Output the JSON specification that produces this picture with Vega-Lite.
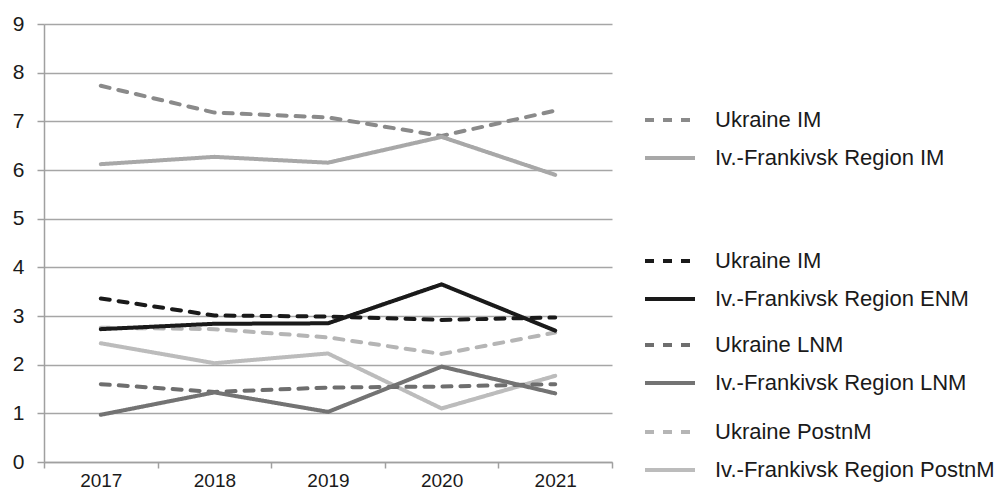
{
  "$schema": "https://vega.github.io/schema/vega-lite/v6.json",
  "width": 568,
  "height": 438,
  "autosize": {"type": "none"},
  "padding": {"left": 44, "top": 24, "right": 390, "bottom": 29},
  "background": "white",
  "config": {
    "view": {"stroke": null},
    "font": "Liberation Sans",
    "axis": {
      "labelFont": "Liberation Sans",
      "labelColor": "#1a1a1a",
      "domainColor": "#a0a0a0",
      "tickColor": "#a0a0a0",
      "gridColor": "#a6a6a6",
      "domainWidth": 1.5,
      "tickWidth": 1.5,
      "gridWidth": 1.5,
      "title": null
    },
    "legend": {
      "title": null,
      "orient": "none",
      "symbolType": "stroke",
      "symbolStrokeWidth": 4,
      "symbolSize": 2500,
      "labelFont": "Liberation Sans",
      "labelFontSize": 22,
      "labelColor": "#1a1a1a",
      "labelOffset": 18,
      "labelLimit": 400,
      "rowPadding": -16,
      "padding": 0
    }
  },
  "data": {
    "values": [
      {"year": "2017", "value": 7.73, "group": "IM", "series": "Ukraine IM"},
      {"year": "2018", "value": 7.18, "group": "IM", "series": "Ukraine IM"},
      {"year": "2019", "value": 7.08, "group": "IM", "series": "Ukraine IM"},
      {"year": "2020", "value": 6.7, "group": "IM", "series": "Ukraine IM"},
      {"year": "2021", "value": 7.22, "group": "IM", "series": "Ukraine IM"},
      {"year": "2017", "value": 6.12, "group": "IM", "series": "Iv.-Frankivsk Region IM"},
      {"year": "2018", "value": 6.27, "group": "IM", "series": "Iv.-Frankivsk Region IM"},
      {"year": "2019", "value": 6.15, "group": "IM", "series": "Iv.-Frankivsk Region IM"},
      {"year": "2020", "value": 6.68, "group": "IM", "series": "Iv.-Frankivsk Region IM"},
      {"year": "2021", "value": 5.9, "group": "IM", "series": "Iv.-Frankivsk Region IM"},
      {"year": "2017", "value": 3.36, "group": "ENM", "series": "Ukraine IM"},
      {"year": "2018", "value": 3.01, "group": "ENM", "series": "Ukraine IM"},
      {"year": "2019", "value": 2.99, "group": "ENM", "series": "Ukraine IM"},
      {"year": "2020", "value": 2.92, "group": "ENM", "series": "Ukraine IM"},
      {"year": "2021", "value": 2.97, "group": "ENM", "series": "Ukraine IM"},
      {"year": "2017", "value": 2.73, "group": "ENM", "series": "Iv.-Frankivsk Region ENM"},
      {"year": "2018", "value": 2.84, "group": "ENM", "series": "Iv.-Frankivsk Region ENM"},
      {"year": "2019", "value": 2.85, "group": "ENM", "series": "Iv.-Frankivsk Region ENM"},
      {"year": "2020", "value": 3.65, "group": "ENM", "series": "Iv.-Frankivsk Region ENM"},
      {"year": "2021", "value": 2.7, "group": "ENM", "series": "Iv.-Frankivsk Region ENM"},
      {"year": "2017", "value": 1.6, "group": "LNM", "series": "Ukraine LNM"},
      {"year": "2018", "value": 1.44, "group": "LNM", "series": "Ukraine LNM"},
      {"year": "2019", "value": 1.53, "group": "LNM", "series": "Ukraine LNM"},
      {"year": "2020", "value": 1.55, "group": "LNM", "series": "Ukraine LNM"},
      {"year": "2021", "value": 1.6, "group": "LNM", "series": "Ukraine LNM"},
      {"year": "2017", "value": 0.97, "group": "LNM", "series": "Iv.-Frankivsk Region LNM"},
      {"year": "2018", "value": 1.43, "group": "LNM", "series": "Iv.-Frankivsk Region LNM"},
      {"year": "2019", "value": 1.03, "group": "LNM", "series": "Iv.-Frankivsk Region LNM"},
      {"year": "2020", "value": 1.96, "group": "LNM", "series": "Iv.-Frankivsk Region LNM"},
      {"year": "2021", "value": 1.41, "group": "LNM", "series": "Iv.-Frankivsk Region LNM"},
      {"year": "2017", "value": 2.76, "group": "PostnM", "series": "Ukraine PostnM"},
      {"year": "2018", "value": 2.73, "group": "PostnM", "series": "Ukraine PostnM"},
      {"year": "2019", "value": 2.56, "group": "PostnM", "series": "Ukraine PostnM"},
      {"year": "2020", "value": 2.22, "group": "PostnM", "series": "Ukraine PostnM"},
      {"year": "2021", "value": 2.66, "group": "PostnM", "series": "Ukraine PostnM"},
      {"year": "2017", "value": 2.44, "group": "PostnM", "series": "Iv.-Frankivsk Region PostnM"},
      {"year": "2018", "value": 2.03, "group": "PostnM", "series": "Iv.-Frankivsk Region PostnM"},
      {"year": "2019", "value": 2.23, "group": "PostnM", "series": "Iv.-Frankivsk Region PostnM"},
      {"year": "2020", "value": 1.1, "group": "PostnM", "series": "Iv.-Frankivsk Region PostnM"},
      {"year": "2021", "value": 1.77, "group": "PostnM", "series": "Iv.-Frankivsk Region PostnM"}
    ]
  },
  "encoding": {
    "x": {
      "field": "year",
      "type": "ordinal",
      "bandPosition": 0.5,
      "scale": {"type": "band", "paddingInner": 0, "paddingOuter": 0},
      "axis": {
        "labelAngle": 0,
        "labelFontSize": 19,
        "labelPadding": 3,
        "tickSize": 6,
        "tickBand": "extent",
        "grid": false
      }
    },
    "y": {
      "field": "value",
      "type": "quantitative",
      "scale": {"domain": [0, 9], "nice": false},
      "axis": {
        "values": [0, 1, 2, 3, 4, 5, 6, 7, 8, 9],
        "labelFontSize": 21,
        "labelPadding": 13,
        "tickSize": 7,
        "grid": true
      }
    }
  },
  "layer": [
    {
      "transform": [{"filter": "datum.group === 'IM'"}],
      "mark": {"type": "line", "strokeWidth": 4, "strokeCap": "round"},
      "encoding": {
        "color": {
          "field": "series", "type": "nominal",
          "scale": {"domain": ["Ukraine IM", "Iv.-Frankivsk Region IM"], "range": ["#8a8a8a", "#a8a8a8"]},
          "legend": {"legendX": 599, "legendY": 69}
        },
        "strokeDash": {
          "field": "series", "type": "nominal",
          "scale": {"domain": ["Ukraine IM", "Iv.-Frankivsk Region IM"], "range": [[9, 9], [1, 0]]},
          "legend": {"legendX": 599, "legendY": 69}
        }
      }
    },
    {
      "transform": [{"filter": "datum.group === 'PostnM'"}],
      "mark": {"type": "line", "strokeWidth": 4, "strokeCap": "round"},
      "encoding": {
        "color": {
          "field": "series", "type": "nominal",
          "scale": {"domain": ["Ukraine PostnM", "Iv.-Frankivsk Region PostnM"], "range": ["#b5b5b5", "#bcbcbc"]},
          "legend": {"legendX": 599, "legendY": 381}
        },
        "strokeDash": {
          "field": "series", "type": "nominal",
          "scale": {"domain": ["Ukraine PostnM", "Iv.-Frankivsk Region PostnM"], "range": [[9, 9], [1, 0]]},
          "legend": {"legendX": 599, "legendY": 381}
        }
      }
    },
    {
      "transform": [{"filter": "datum.group === 'LNM'"}],
      "mark": {"type": "line", "strokeWidth": 4, "strokeCap": "round"},
      "encoding": {
        "color": {
          "field": "series", "type": "nominal",
          "scale": {"domain": ["Ukraine LNM", "Iv.-Frankivsk Region LNM"], "range": ["#6e6e6e", "#737373"]},
          "legend": {"legendX": 599, "legendY": 294}
        },
        "strokeDash": {
          "field": "series", "type": "nominal",
          "scale": {"domain": ["Ukraine LNM", "Iv.-Frankivsk Region LNM"], "range": [[9, 9], [1, 0]]},
          "legend": {"legendX": 599, "legendY": 294}
        }
      }
    },
    {
      "transform": [{"filter": "datum.group === 'ENM'"}],
      "mark": {"type": "line", "strokeWidth": 4, "strokeCap": "round"},
      "encoding": {
        "color": {
          "field": "series", "type": "nominal",
          "scale": {"domain": ["Ukraine IM", "Iv.-Frankivsk Region ENM"], "range": ["#1a1a1a", "#1a1a1a"]},
          "legend": {"legendX": 599, "legendY": 210}
        },
        "strokeDash": {
          "field": "series", "type": "nominal",
          "scale": {"domain": ["Ukraine IM", "Iv.-Frankivsk Region ENM"], "range": [[9, 9], [1, 0]]},
          "legend": {"legendX": 599, "legendY": 210}
        }
      }
    }
  ],
  "resolve": {"scale": {"color": "independent", "strokeDash": "independent"}}
}
